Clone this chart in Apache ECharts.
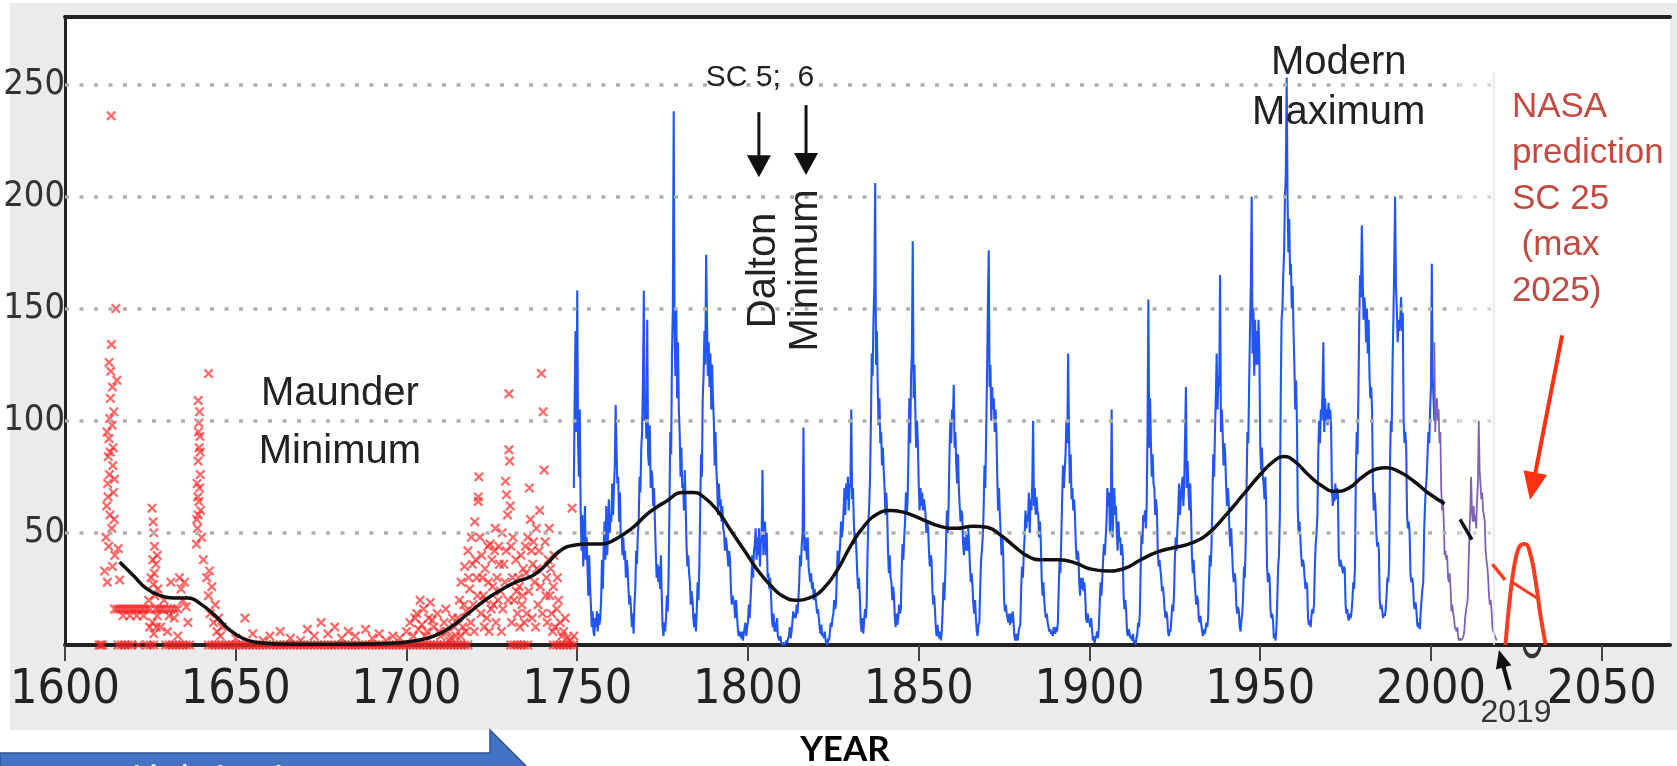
<!DOCTYPE html>
<html lang="en">
<head>
    <meta charset="UTF-8">
    <title>Sunspot number 1600-2050</title>
    <script src="https://cdn.jsdelivr.net/npm/echarts@6/dist/echarts.min.js"></script>
    <style>
        html, body { margin: 0; padding: 0; background: #fff; }
        #charts { width: 1677px; height: 766px; }
    </style>
</head>
<body>
<div id="charts"></div>

<script>
    // axis ticks
    var yearTicks = [1600, 1650, 1700, 1750, 1800, 1850, 1900, 1950, 2000, 2050];
    var ssnTicks = [50, 100, 150, 200, 250];

    var blueStart = 1749;
    var blueStep = 0.25;
    var blueSSN = [
        70,110,140,95, 158,90,75,105,
        60,42,58,35, 45,62,38,48, 35,22,40,26, 18,8,15,6, 4,12,8,15,
        6,14,9,12, 20,38,25,44, 55,38,62,40, 48,65,50,58, 55,72,58,70,
        80,107,88,72, 75,55,68,48, 50,40,48,38, 42,30,38,34, 25,18,22,16,
        8,14,5,18, 25,42,36,50, 55,75,68,88, 95,118,158,100, 110,92,145,85,
        80,98,70,78, 75,62,70,55, 42,30,36,28, 35,25,40,22, 8,4,10,6,
        12,22,15,30, 60,95,85,130, 150,238,140,120, 150,110,135,105, 95,75,88,70,
        72,60,78,62, 45,35,40,32, 28,18,24,20, 12,8,14,6, 15,28,20,35,
        60,85,75,110, 120,140,125,174, 145,120,135,115, 130,105,125,110, 100,80,95,78,
        70,58,72,62, 65,55,62,52, 50,42,48,45, 45,35,42,38, 25,18,22,20,
        18,12,20,14, 8,4,6,5, 3,6,2,5, 5,10,4,8, 10,18,12,20,
        28,40,30,42, 45,52,38,48, 40,52,35,45, 48,78,40,50, 55,40,50,30,
        32,25,30,22, 12,8,14,6, 10,6,12,4, 3,2,4,1, 0,0,1,0,
        0,2,1,3, 4,8,3,6, 10,15,12,14, 12,18,14,20, 28,40,35,45,
        50,97,42,48, 45,38,48,35, 35,28,32,25, 28,20,25,22, 18,14,16,12,
        8,5,9,4, 5,3,6,2, 1,0,3,2, 6,10,8,12, 14,20,16,18,
        30,42,35,40, 45,55,48,52, 60,70,58,72, 65,75,60,70, 72,105,65,70,
        55,45,50,42, 32,25,30,22, 10,6,12,5, 10,16,12,18, 40,55,62,75,
        100,130,120,145, 160,206,125,140, 115,98,110,90, 95,80,88,78, 70,58,68,60,
        42,32,40,30, 28,20,26,22, 12,8,14,9, 12,18,14,16, 32,45,38,48,
        55,68,58,65, 85,110,90,120, 130,180,110,125, 105,88,100,90, 72,60,70,62,
        68,60,65,62, 58,50,55,52, 42,35,40,38, 25,18,22,16, 8,4,9,5,
        3,6,2,6, 15,28,20,30, 45,60,50,62, 85,100,90,105, 100,116,88,95,
        80,72,85,70, 62,55,60,58, 45,40,48,42, 50,42,52,45, 35,28,32,26,
        18,14,20,12, 6,4,9,10, 25,38,42,48, 60,80,70,95, 120,150,176,115,
        125,100,115,105, 110,95,105,95, 75,60,70,58, 50,40,48,40, 20,15,18,14,
        12,10,14,9, 14,10,15,11, 4,2,5,3, 2,6,8,9, 25,35,30,40,
        48,60,52,58, 55,68,50,65, 60,72,100,62, 70,58,66,60, 58,48,55,46,
        30,22,28,20, 15,12,14,10, 8,6,7,5, 6,4,8,7, 5,8,6,10,
        25,38,32,48, 65,80,70,78, 85,100,90,130, 95,72,85,65, 70,60,65,58,
        45,38,42,40, 28,22,30,25, 30,24,28,22, 12,10,14,11, 10,8,12,7,
        2,4,1,3, 4,6,3,8, 18,28,22,30, 38,45,40,48, 55,70,62,68,
        50,62,105,48, 60,70,58,62, 50,42,55,46, 48,40,45,40, 22,16,20,15,
        6,4,7,5, 3,4,2,5, 1,2,0,3, 5,10,8,14, 35,50,45,58,
        55,60,52,62, 95,154,88,110, 90,75,85,72, 70,58,65,60, 42,35,38,34,
        30,24,26,22, 16,12,15,13, 6,4,7,6, 12,18,15,22, 38,48,42,52,
        60,72,58,65, 65,75,62,72, 72,115,70,82, 68,60,72,58, 40,32,38,30,
        24,18,22,20, 12,10,13,9, 6,4,7,5, 7,10,8,12, 28,40,35,45,
        65,85,75,95, 110,130,105,120, 115,165,95,105, 95,80,90,85, 72,62,70,65,
        50,44,52,42, 33,28,32,29, 18,14,17,15, 8,6,11,14, 22,35,30,45,
        70,95,90,115, 140,160,200,130, 150,120,145,125, 140,125,145,130, 90,78,88,75,
        72,65,75,62, 35,28,32,30, 16,12,14,11, 3,5,2,8, 20,35,40,58,
        110,145,150,165, 175,200,210,253, 200,175,190,165, 170,150,160,140, 125,105,118,100,
        60,50,55,48, 40,35,38,36, 30,25,28,26, 12,9,11,8, 13,16,14,18,
        35,45,50,58, 85,100,90,105, 100,115,135,95, 110,100,105,98, 108,100,105,98,
        70,62,68,64, 72,65,70,68, 40,35,38,36, 36,32,35,34, 18,14,16,12,
        11,14,12,15, 20,28,25,35, 75,95,85,112, 145,165,155,187, 165,145,155,150,
        135,150,130,145, 120,110,115,105, 72,60,68,62, 50,44,46,42, 20,16,18,15,
        12,14,13,16, 22,30,28,36, 80,100,95,125, 145,170,200,160, 150,135,145,140,
        145,155,140,148, 100,90,95,88, 58,52,55,50, 32,28,30,27, 18,16,19,15,
        9,8,10,7, 15,20,25,28, 50,62,70,75, 85,95,90,105, 115,170,120,110,
        100
    ];

    // recent cycles (purple), quarter-year steps from 2001.0
    var recentStart = 2001;
    var recentSSN = [
        135,95,105,110, 100,105,90,95, 70,60,65,55, 40,42,38,40, 30,28,32,25,
        15,18,14,12, 8,7,6,8, 3,2,3,2, 2,3,4,6, 12,15,18,20,
        35,50,58,75, 60,55,62,55, 58,52,65,72, 100,78,72,65, 68,60,58,55,
        42,38,35,30, 22,18,20,15, 8,6,5,4, 3,2
    ];

    // smoothed long-term curve (black)
    var smoothYears = [1616,1620,1624,1628,1632,1636,1640,1644,1648,1652,1656,1662,1670,1680,1690,1697,1703,1708,1713,1718,
        1723,1727,1732,1737,1741,1745,1749,1753,1757,1761,1766,1771,1776,1781,1784,1787,1791,1795,1799,1803,
        1807,1810,1814,1818,1822,1826,1830,1834,1838,1842,1846,1851,1856,1861,1866,1870,1874,1878,1882,1886,
        1891,1896,1900,1905,1910,1915,1920,1925,1930,1935,1940,1945,1950,1954,1957,1960,1964,1968,1972,1976,
        1980,1984,1987,1991,1995,1999,2004];
    var smoothValues = [37,31,25,22,21,21,18,13,7,3,1.2,0.5,0.3,0.3,0.5,0.9,2,4,8,14,
        20,24,28,31,36,42,44.5,45,45,47,52,59,64,68,68,66,60,51,42,33,
        26,22,20,21,25,33,44,53,58.5,60,59,56,53,52,53,52.5,49,44,39.5,38,
        38,36.5,34,33,34,38,41.5,43.5,45.5,50,58,67,76,82,84,82,76,71,68.5,70,
        75,78.5,79,77,73,68,63];
    var smoothGapYears = [2008.5, 2012];
    var smoothGapValues = [56, 47];
    var predLeadYears = [2018, 2021.7];
    var predLeadValues = [36, 29];

    // NASA SC25 prediction outline
    var predYears = [2021.8, 2023.2, 2024.6, 2026, 2027.6, 2029.2, 2030.6, 2032, 2033.6];
    var predValues = [0, 22, 37, 44, 45, 40, 29, 14, 0];
    var predBarYears = [2023.8, 2031];
    var predBarValues = [28, 21];

    // group sunspot observations (red crosses) [year, value]
    var groupObs = [
        [1611.6,33],[1612,48],[1612.2,62],[1612.5,72],[1612.7,84],[1612.9,92],[1613.1,101],[1613.3,110],[1613.5,236],
        [1613.4,122],[1613.6,134],[1613.8,98],[1614,80],[1614.2,68],[1614.4,56],[1614.6,40],[1613.2,58],[1612.8,44],
        [1614.9,150],[1615.2,118],[1615.6,43],[1616,29],[1613.9,35],[1612.4,28],[1614.1,88],[1613,76],
        [1612.6,66],[1613.7,52],[1614.3,104],[1613.2,86],[1612.3,95],[1614.5,74],[1613.9,115],[1612.9,126],
        [1614.5,16],[1615.3,16],[1616.1,16],[1616.9,16],[1617.7,16],[1618.5,16],[1619.3,16],[1620.1,16],[1620.9,16],
        [1621.7,16],[1622.5,16],[1623.3,16],[1624.1,16],[1624.9,16],[1626.5,16],[1627.3,16],[1628.1,16],[1628.9,16],
        [1630,16],[1631,16],[1632,16],[1633,16],
        [1617,13],[1619,13],[1621,13],[1623,13],[1627,13],[1630.5,13],
        [1625.5,61],[1625.8,55],[1626,50],[1626.2,44],[1625.7,38],[1626.1,32],[1625.9,27],[1626.3,22],[1625.6,10],
        [1626,5],[1625.2,30],[1626.6,36],[1627.2,25],[1624.8,8],[1624.5,20],[1627,40],[1626.8,8],
        [1628,8],[1629,20],[1630,6],[1631,28],[1632,12],[1633.5,30],[1634,25],[1634.5,20],[1635,28],[1635.5,17],[1636,10],[1633,4],
        [1638.5,45],[1638.8,52],[1639,58],[1639.2,64],[1639.4,70],[1639.6,76],[1639,82],[1639.3,88],[1639.5,93],
        [1639.2,99],[1639.4,104],[1639,109],[1639.7,60],[1638.7,72],[1640,48],[1642,121],[1640.5,38],
        [1638.9,66],[1639.6,86],[1639.1,95],[1638.6,56],
        [1641.5,30],[1642,22],[1642.5,14],[1643,26],[1643.5,10],[1644,18],[1644.5,6],[1645,12],[1645.5,4],[1646,8],[1642.3,33],
        [1650,3],[1652.7,12],[1655,5],[1658,2],[1660,4],[1663,6],[1666,3],[1669,2],[1671,7],[1673,4],[1675,10],
        [1677,5],[1679,8],[1681,3],[1683,6],[1685,4],[1688,7],[1690,3],[1692,5],[1694,2],[1696,4],[1698,3],
        [1700,6],[1701,10],[1702,4],[1703,14],[1704,20],[1704.5,9],[1705,16],[1706,6],[1706.5,12],[1707,19],[1708,8],
        [1709,14],[1710,4],[1711,10],[1712,6],[1713,3],[1714,8],[1702.5,12],[1703.5,7],[1705.5,4],[1707.5,11],[1709.5,6],
        [1711.5,16],[1712.5,2],[1713.5,12],[1714.5,4],
        [1715,12],[1715.5,20],[1716,28],[1716.5,8],[1717,35],[1717.5,15],[1718,42],[1718.5,25],[1719,48],[1719.5,18],
        [1720,55],[1720.3,38],[1720.6,30],[1721,66],[1721.2,75],[1721,64],[1721.5,48],[1722,40],[1722.5,22],[1723,34],
        [1723.5,12],[1724,28],[1724.5,45],[1725,38],[1725.5,18],[1726,52],[1726.5,30],[1727,44],[1727.5,24],[1728,50],
        [1728.5,36],[1729,73],[1729.3,67],[1729.6,58],[1730,112],[1730,87],[1730.2,82],[1730.4,62],[1730.6,44],[1731,30],
        [1731.5,20],[1732,38],[1732.5,14],[1733,26],[1733.5,40],[1734,22],[1734.5,10],[1735,32],[1735.5,48],[1736,70],
        [1736.3,56],[1736.6,42],[1737,36],[1737.5,28],[1738,52],[1738.5,18],[1739,60],[1739.5,121],[1740,104],[1740.3,78],
        [1740.6,46],[1741,30],[1741.5,38],[1742,22],[1742.5,14],[1743,26],[1743.5,8],[1744,16],[1744.5,20],[1745,10],
        [1745.5,4],[1746,6],[1747,3],[1748.5,61],[1748,2],[1749,4],
        [1715.8,4],[1716.8,18],[1717.3,6],[1718.2,30],[1718.8,10],[1719.3,36],[1719.8,6],[1720.8,22],[1721.8,14],
        [1722.2,30],[1722.8,8],[1723.2,20],[1723.8,44],[1724.2,6],[1724.8,16],[1725.2,26],[1725.8,42],[1726.2,10],
        [1726.8,20],[1727.2,36],[1727.8,6],[1728.2,16],[1728.8,28],[1729.2,42],[1729.8,20],[1730.8,10],[1731.2,48],
        [1732.2,24],[1732.8,30],[1733.2,8],[1733.8,18],[1734.2,34],[1734.8,44],[1735.2,14],[1735.8,24],[1736.8,12],
        [1737.2,46],[1737.8,8],[1738.2,34],[1738.8,42],[1739.2,26],[1739.8,14],[1740.8,22],[1741.2,10],[1741.8,52],
        [1742.2,34],[1742.8,6],[1743.2,40],[1744.2,30],[1746.5,12]
    ];
    var groupZeroYears = [1610,1610.5,1611,1615.5,1616.5,1617.5,1618.5,1619.5,1621.5,1624,1625,1626,
        1629.5,1630.5,1631.5,1632.5,1633.5,1634.5,1635.5,1636.5,1642,
        1643,1644,1645,1646,1647,1648,1649,1650,1651,1652,1653,1654,1655,1656,1657,1658,1659,1660,
        1661,1662,1663,1664,1665,1666,1667,1668,1669,1670,1671,1672,1673,1674,1675,1676,1677,1678,1679,1680,
        1681,1682,1683,1684,1685,1686,1687,1688,1689,1690,1691,1692,1693,1694,1695,1696,1697,1698,1699,1700,
        1701,1702,1703,1704,1705,1706,1707,1708,1709,1710,1711,1712,1713,1714,1715,1716,1717,1718,
        1730.5,1731.5,1732.5,1733.5,1734.5,1735.5,1743,1744,1745,1746,1747,1748,1749];

    var fontNarrow = '"Liberation Sans Narrow", "DejaVu Sans Condensed", "Liberation Sans", Arial, sans-serif';
    var fontMain = '"Liberation Sans", Arial, sans-serif';
    var gridEndYear = 2008;
    var gridFadeYear = 2018.5;

    function steps(start, step, values) {
        return values.map(function (v, i) { return [start + i * step, v]; });
    }
    function zip(xs, ys) {
        return xs.map(function (x, i) { return [x, ys[i]]; });
    }

    var gridLines = [];
    ssnTicks.forEach(function (v) {
        gridLines.push([{ coord: [1600, v] }, { coord: [gridEndYear, v] }]);
        gridLines.push([{ coord: [gridEndYear, v], lineStyle: { color: '#d6d6d6' } }, { coord: [gridFadeYear, v] }]);
    });
    gridLines.push([{ coord: [gridFadeYear, 0], lineStyle: { type: 'solid', width: 1.5, color: '#e4e4e4' } }, { coord: [gridFadeYear, 255] }]);

    var crossData = groupObs.concat(groupZeroYears.map(function (y) { return [y, 0]; }));

    var chart = document.getElementById('charts');
    var myChart = echarts.init(chart);

    var option = {
        animation: false,
        backgroundColor: '#fff',
        grid: { left: 65, top: 17, right: 7, bottom: 121, show: true, backgroundColor: '#fff', borderWidth: 0, outerBoundsMode: 'none' },
        xAxis: [{
            type: 'value', min: 1600, max: 2070, position: 'bottom',
            axisLine: { show: true, onZero: false, lineStyle: { color: '#222', width: 4 } },
            axisTick: { show: true, customValues: yearTicks, length: 16, lineStyle: { color: '#444', width: 2 } },
            axisLabel: {
                customValues: yearTicks, formatter: function (v) { return String(v); },
                fontSize: 48, fontFamily: fontNarrow, color: '#222', margin: 22
            },
            splitLine: { show: false }
        }, {
            type: 'value', min: 1600, max: 2070, position: 'top',
            axisLine: { show: true, onZero: false, lineStyle: { color: '#222', width: 4 } },
            axisTick: { show: false }, axisLabel: { show: false }, splitLine: { show: false }
        }],
        yAxis: {
            type: 'value', min: 0, max: 280,
            axisLine: { show: true, onZero: false, lineStyle: { color: '#222', width: 3 } },
            axisTick: { show: false },
            axisLabel: {
                customValues: ssnTicks, formatter: function (v) { return String(v); },
                fontSize: 36, fontFamily: fontNarrow, color: '#333', margin: 0
            },
            splitLine: { show: false }
        },
        series: [{
            name: 'group observations',
            type: 'scatter',
            z: 2,
            data: crossData,
            symbol: 'path://M0,1.6L1.6,0L10,8.4L8.4,10Z M8.4,0L10,1.6L1.6,10L0,8.4Z',
            symbolSize: 10,
            itemStyle: { color: 'rgba(255,35,35,0.85)' },
            markLine: {
                silent: true, symbol: 'none', animation: false,
                label: { show: false },
                lineStyle: { color: '#b0b0b0', width: 3.5, type: [4, 10.5] },
                data: gridLines
            }
        }, {
            name: 'sunspot number',
            type: 'line', z: 3,
            data: steps(blueStart, blueStep, blueSSN),
            showSymbol: false,
            lineStyle: { color: '#2255f5', width: 2.1 }
        }, {
            name: 'recent cycles',
            type: 'line', z: 4,
            data: steps(recentStart, blueStep, recentSSN),
            showSymbol: false,
            lineStyle: { color: '#7c63b6', width: 1.8 }
        }, {
            name: 'smoothed',
            type: 'line', z: 5,
            data: zip(smoothYears, smoothValues),
            smooth: 0.5,
            showSymbol: false,
            lineStyle: { color: '#111', width: 3.5 }
        }, {
            type: 'line', z: 5,
            data: zip(smoothGapYears, smoothGapValues),
            showSymbol: false,
            lineStyle: { color: '#111', width: 3.5 }
        }, {
            type: 'line', z: 5,
            data: zip(predLeadYears, predLeadValues),
            showSymbol: false,
            lineStyle: { color: '#ff3b1f', width: 3.5 }
        }, {
            name: 'NASA prediction',
            type: 'line', z: 5,
            data: zip(predYears, predValues),
            smooth: 0.4,
            showSymbol: false,
            lineStyle: { color: '#ff3b1f', width: 4 }
        }, {
            type: 'line', z: 5,
            data: zip(predBarYears, predBarValues),
            showSymbol: false,
            lineStyle: { color: '#ff3b1f', width: 3 }
        }]
    };
    myChart.setOption(option);

    function px(year, value) {
        return myChart.convertToPixel({ xAxisIndex: 0, yAxisIndex: 0 }, [year, value]);
    }
    function arrow(from, to, color, width, headLen, headW) {
        var a = px(from[0], from[1]), b = px(to[0], to[1]);
        var dx = b[0] - a[0], dy = b[1] - a[1];
        var len = Math.sqrt(dx * dx + dy * dy);
        var ux = dx / len, uy = dy / len;
        var bx = b[0] - ux * headLen, by = b[1] - uy * headLen;
        return [{
            type: 'line', z: 20,
            shape: { x1: a[0], y1: a[1], x2: bx + ux * 2, y2: by + uy * 2 },
            style: { stroke: color, lineWidth: width }
        }, {
            type: 'polygon', z: 20,
            shape: { points: [[b[0], b[1]], [bx - uy * headW / 2, by + ux * headW / 2], [bx + uy * headW / 2, by - ux * headW / 2]] },
            style: { fill: color }
        }];
    }
    function label(pos, text, size, color, extra) {
        var p = px(pos[0], pos[1]);
        var style = { text: text, fontSize: size, fontFamily: fontMain, fill: color, align: 'center', verticalAlign: 'middle' };
        var el = { type: 'text', z: 20, x: p[0], y: p[1], style: style };
        if (extra) {
            Object.keys(extra).forEach(function (k) {
                if (k === 'rotation') { el.rotation = extra[k]; } else { style[k] = extra[k]; }
            });
        }
        return el;
    }

    var zeroMark = px(2029.6, 0);
    var graphics = [
        { type: 'rect', z: -10, silent: true, shape: { x: 10, y: 3, width: 1667, height: 727 }, style: { fill: '#ebebeb' } },
        label([1680.5, 99], 'Maunder\nMinimum', 40, '#222', { lineHeight: 58 }),
        label([1973, 248.5], 'Modern\nMaximum', 40, '#222', { lineHeight: 50 }),
        label([1803.5, 253], 'SC 5;  6', 30, '#222'),
        label([1810.8, 167], 'Dalton\nMinimum', 40, '#222', { lineHeight: 42, rotation: Math.PI / 2 }),
        label([2023.7, 198.5], 'NASA\nprediction\nSC 25\n (max\n2025)', 35, '#c24a40', { align: 'left', lineHeight: 46 }),
        label([2024.9, -30.3], '2019', 32, '#333'),
        {
            type: 'arc', z: 20, x: zeroMark[0], y: zeroMark[1], scaleY: 1.4,
            shape: { cx: 0, cy: 0, r: 8, startAngle: 0, endAngle: Math.PI },
            style: { stroke: '#333', lineWidth: 3, fill: null }
        },
        {
            type: 'text', z: 20, x: 845, y: 750,
            style: { text: 'YEAR', fontSize: 35, fontWeight: 'bold', fontFamily: 'Lato, "Liberation Sans", sans-serif', fill: '#000', align: 'center', verticalAlign: 'middle' }
        },
        {
            type: 'polygon', z: 20,
            shape: { points: [[0, 753], [490, 753], [490, 730], [568, 808], [490, 886], [490, 864], [0, 864]] },
            style: { fill: '#4472c4', stroke: '#2f528f', lineWidth: 1.5 }
        },
        {
            type: 'text', z: 21, x: 132, y: 762,
            style: { text: 'Little Ice Age', fontSize: 34, fontFamily: 'Lato, "Liberation Sans", sans-serif', fill: '#fff', align: 'left', verticalAlign: 'top' }
        }
    ];
    graphics = graphics
        .concat(arrow([1803.2, 237.6], [1803.2, 208.6], '#111', 3, 22, 24))
        .concat(arrow([1817, 240.7], [1817, 209.5], '#111', 3, 22, 24))
        .concat(arrow([2038.4, 138], [2029, 64.6], '#ff3010', 4, 28, 24))
        .concat(arrow([2023.1, -20], [2019.9, -2.2], '#111', 4, 18, 16));

    myChart.setOption({ graphic: graphics });
</script>
</body>
</html>
